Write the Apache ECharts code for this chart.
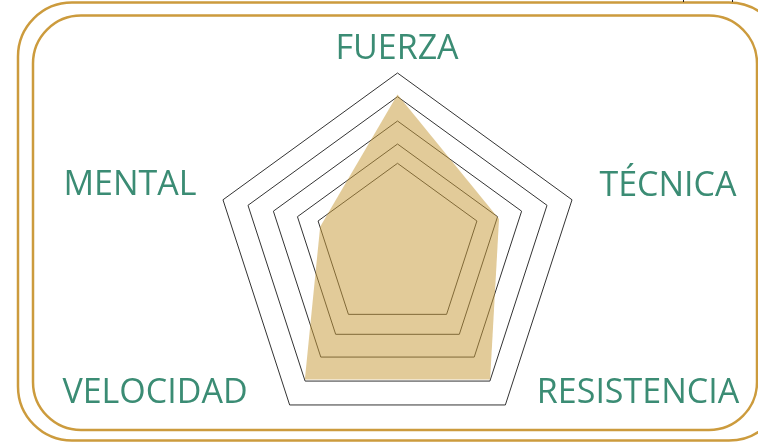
<!DOCTYPE html>
<html>
<head>
<meta charset="utf-8">
<script src="https://cdn.jsdelivr.net/npm/echarts@6/dist/echarts.min.js"></script>
<style>
  html, body { margin: 0; padding: 0; background: #fff; }
  #chart { width: 758px; height: 443px; }
</style>
</head>
<body>
<div id="chart"></div>
<script>
// indicator names, in radar order (counter-clockwise from the top)
const indicators = ['FUERZA', 'MENTAL', 'VELOCIDAD', 'RESISTENCIA', 'TÉCNICA']
// values of the filled area
const scores = [9, 6, 9, 9, 7]
// level of each drawn pentagon (inner to outer)
const ringLevels = [6, 7, 8, 9, 10]
const scaleMin = 2.8
const scaleMax = 10

// layout of the pentagons (they are not quite concentric in the original)
const ringCenterY = [246.8, 249.2, 251.5, 253.9, 256.5]
const ringRadius = [83.5, 105.2, 130.5, 157.2, 183.5]
const cx = 397.5

const labelPos = [
  [397, 49], [130, 185], [155, 393], [638, 393], [668, 186]
]

const gold = '#CC9B3D'
const green = '#3B8C74'

const chart = echarts.init(document.getElementById('chart'))

const radars = ringLevels.map((lvl, i) => ({
  center: [cx, ringCenterY[i]],
  radius: ringRadius[i],
  startAngle: 90,
  splitNumber: 1,
  shape: 'polygon',
  indicator: indicators.map(n => ({ name: n, min: 0, max: lvl })),
  axisName: { show: false },
  axisLine: { show: false },
  axisTick: { show: false },
  axisLabel: { show: false },
  splitArea: { show: false },
  splitLine: { lineStyle: { color: '#333', width: 1 } }
}))

// hidden radar that carries the data
radars.push({
  center: [cx, 252],
  radius: 183,
  startAngle: 90,
  splitNumber: 1,
  shape: 'polygon',
  indicator: indicators.map(n => ({ name: n, min: scaleMin, max: scaleMax })),
  axisName: { show: false },
  axisLine: { show: false },
  axisTick: { show: false },
  axisLabel: { show: false },
  splitArea: { show: false },
  splitLine: { show: false }
})

const labels = indicators.map((n, i) => ({
  type: 'text',
  x: labelPos[i][0],
  y: labelPos[i][1],
  style: {
    text: n,
    fill: green,
    font: '34px "Open Sans"',
    align: 'center',
    verticalAlign: 'middle'
  },
  z: 10
}))

const frames = [
  {
    type: 'rect',
    shape: { x: 18, y: 2.5, width: 765, height: 438, r: 54 },
    style: { fill: 'none', stroke: gold, lineWidth: 2.5 }
  },
  {
    type: 'rect',
    shape: { x: 33, y: 15.5, width: 724, height: 414.5, r: 48 },
    style: { fill: 'none', stroke: gold, lineWidth: 2.5 }
  },
  {
    type: 'line',
    shape: { x1: 683.5, y1: 0, x2: 683.5, y2: 2 },
    style: { stroke: '#222', lineWidth: 1 }
  },
  {
    type: 'line',
    shape: { x1: 732.5, y1: 0, x2: 732.5, y2: 2 },
    style: { stroke: '#222', lineWidth: 1 }
  }
]

const option = {
  animation: false,
  radar: radars,
  graphic: frames.concat(labels),
  series: [
    {
      type: 'radar',
      radarIndex: ringLevels.length,
      symbol: 'none',
      lineStyle: { width: 0 },
      areaStyle: { color: '#C89B3C', opacity: 0.52 },
      data: [{ value: scores, name: 'Perfil' }]
    }
  ]
}

chart.setOption(option)

window.addEventListener('resize', () => {
  chart.resize()
})
</script>
</body>
</html>
